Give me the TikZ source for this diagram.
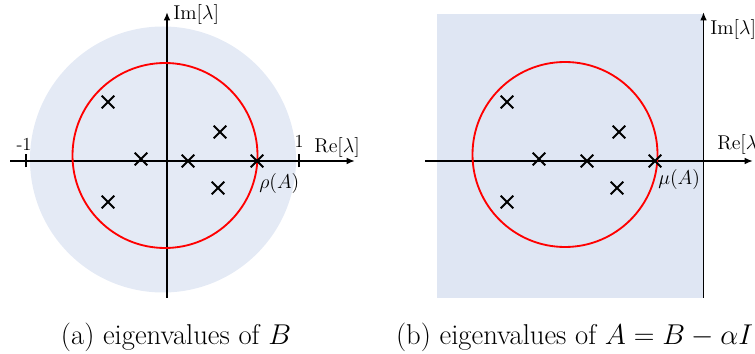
\documentclass[tikz,border=0pt]{standalone}
\usepackage{fix-cm}
\usepackage{amsmath}
\usepackage{fontspec}
\usepackage{tikz}
\usetikzlibrary{arrows.meta,shapes.misc}
\definecolor{diskblue}{HTML}{E4EAF5}
\definecolor{planeblue}{HTML}{DFE6F3}
\tikzset{
  axisline/.style={-{Latex[length=5pt,width=4pt]},line width=1.1pt,black},
  tickline/.style={line width=1.1pt,black},
  eignode/.style={cross out,draw=black,line width=1.1pt,minimum size=6.5pt,inner sep=0pt},
  radcircle/.style={draw=red,line width=1.1pt},
  axlabel/.style={font=\fontsize{12}{14}\selectfont,inner sep=0pt,anchor=west},
  ticklabel/.style={font=\fontsize{11}{13}\selectfont,inner sep=0pt},
  captext/.style={font=\fontsize{17.2}{20}\selectfont,inner sep=0pt},
}
\begin{document}
\begin{tikzpicture}[x=0.6pt,y=0.6pt]
  \useasboundingbox (0,0) rectangle (755,353);
  % (a) eigenvalues of B
  \begin{scope}[shift={(167,192)}]
    \fill[diskblue] (-4,1.5) circle (133);
    \coordinate (aW) at (-157,0);
    \coordinate (aE) at (188,0);
    \coordinate (aS) at (0,-137);
    \coordinate (aN) at (0,149);
    \draw[axisline] (aW) -- (aE);
    \draw[axisline] (aS) -- (aN);
    \draw[tickline] (-141,-6.5) -- (-141,6.5);
    \draw[tickline] (132,-6.5) -- (132,6.5);
    \node[ticklabel] (aneg) at (-143,17) {-1};
    \node[ticklabel] (apos) at (132,20) {1};
    \draw[radcircle] (-2,5.5) circle (92.5);
    \foreach \p [count=\i] in {(-59,59),(53,29),(-26,2),(21,0),(90,0),(51,-27),(-59,-41)}
      \node[eignode] (a\i) at \p {};
    \node[axlabel] (aIm) at (6,146) {$\mathrm{Im}[\lambda]$};
    \node[axlabel] (aRe) at (147,13) {$\mathrm{Re}[\lambda]$};
    \node[axlabel] (arho) at (92,-23) {$\rho(A)$};
  \end{scope}
  % (b) eigenvalues of A = B - alpha I
  \begin{scope}[shift={(703.5,192)}]
    \fill[planeblue] (-266.5,-137) rectangle (-0.5,147);
    \coordinate (bW) at (-278.5,0);
    \coordinate (bE) at (49.5,0);
    \coordinate (bS) at (0,-137);
    \coordinate (bN) at (0,149);
    \draw[axisline] (bW) -- (bE);
    \draw[axisline] (bS) -- (bN);
    \draw[radcircle] (-138.5,6.5) circle (92.5);
    \foreach \p [count=\i] in {(-196.5,59),(-84.5,29),(-164.5,2),(-116.5,0),(-48.5,0),(-86.5,-27),(-196.5,-41)}
      \node[eignode] (b\i) at \p {};
    \node[axlabel] (bIm) at (6.5,131) {$\mathrm{Im}[\lambda]$};
    \node[axlabel] (bRe) at (13.5,16) {$\mathrm{Re}[\lambda]$};
    \node[axlabel] (bmu) at (-45.5,-19) {$\mu(A)$};
  \end{scope}
  \node[captext] (capa) at (176,16) {(a) eigenvalues of $B$};
  \node[captext] (capb) at (574.5,16) {(b) eigenvalues of $A=B-\alpha I$};
\end{tikzpicture}
\end{document}
